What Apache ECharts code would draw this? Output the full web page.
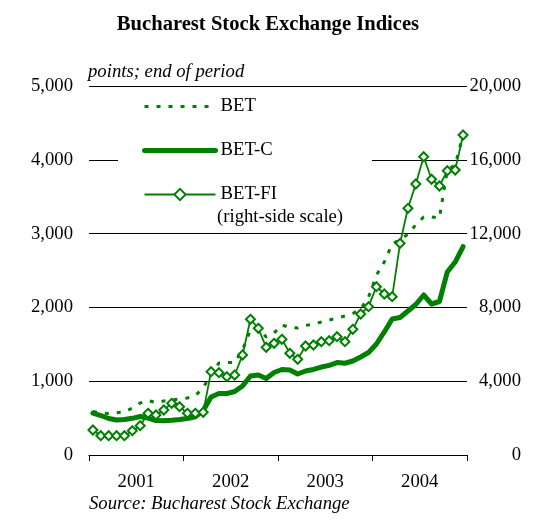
<!DOCTYPE html>
<html>
<head>
<meta charset="utf-8">
<script src="https://cdn.jsdelivr.net/npm/echarts@6/dist/echarts.min.js"></script>
<style>
html,body{margin:0;padding:0;background:#fff;}
#c{width:536px;height:521px;}
</style>
</head>
<body>
<div id="c"></div>
<script>
const years = ['2001', '2002', '2003', '2004'];
const months = [];
years.forEach(y => { for (let m = 1; m <= 12; m++) months.push(y + '-' + (m < 10 ? '0' + m : m)); });

const bet = [589, 569, 562, 573, 583, 637, 705, 738, 711, 732, 745, 759,
  772, 806, 908, 1098, 1247, 1253, 1253, 1423, 1694, 1721, 1599, 1653,
  1762, 1728, 1721, 1755, 1775, 1802, 1829, 1856, 1883, 1917, 1980, 2141,
  2439, 2615, 2860, 2920, 2990, 3120, 3225, 3225, 3211, 3862, 3930, 4336];

const betC = [569, 535, 495, 474, 481, 497, 522, 501, 467, 465, 470, 481,
  495, 519, 603, 786, 833, 833, 860, 935, 1070, 1084, 1037, 1118,
  1159, 1152, 1098, 1138, 1159, 1192, 1215, 1253, 1243, 1274, 1328, 1389,
  1504, 1667, 1843, 1863, 1951, 2039, 2168, 2046, 2080, 2480, 2615, 2825];

const betFI = [1355, 1046, 1046, 1046, 1046, 1317, 1588, 2260, 2168, 2439, 2802, 2618,
  2260, 2260, 2314, 4515, 4461, 4244, 4336, 5420, 7355, 6867, 5837, 6054,
  6271, 5512, 5187, 5908, 5962, 6141, 6195, 6412, 6141, 6813, 7642, 8038,
  9122, 8726, 8580, 11474, 13371, 14688, 16168, 14943, 14580, 15409, 15447, 17344];

const leftAxis = { min: 0, max: 5000, interval: 1000 };
const rightAxis = { min: 0, max: 20000, interval: 4000 };

const GREEN = '#008000';
const FONT = 'Liberation Serif';
const fmt = v => String(v).replace(/\B(?=(\d{3})+(?!\d))/g, ',');

const chart = echarts.init(document.getElementById('c'), null, { renderer: 'canvas' });
chart.setOption({
  animation: false,
  backgroundColor: '#fff',
  title: {
    text: 'Bucharest Stock Exchange Indices',
    left: 'center', top: 9,
    textStyle: { fontFamily: FONT, fontSize: 20.6, fontWeight: 'bold', color: '#000' }
  },
  grid: { left: 89, right: 69, top: 86, bottom: 66 },
  legend: {
    orient: 'vertical',
    left: 118, top: 89,
    padding: [8, 95, 6, 24],
    itemWidth: 71, itemHeight: 14, itemGap: 25,
    backgroundColor: '#fff',
    textStyle: { fontFamily: FONT, fontSize: 18.7, color: '#000' },
    data: [
      { name: 'BET', itemStyle: { opacity: 0 }, lineStyle: { width: 3, type: [4, 8], color: GREEN } },
      { name: 'BET-C', itemStyle: { opacity: 0 }, lineStyle: { width: 5, color: GREEN, cap: 'round' } },
      { name: 'BET-FI', lineStyle: { width: 1.8, color: GREEN } }
    ]
  },
  graphic: [
    { type: 'text', left: 217, top: 208, z: 100,
      style: { text: '(right-side scale)', font: '18.7px "Liberation Serif"', fill: '#000' } },
    { type: 'text', left: 88, top: 63, z: 100,
      style: { text: 'points; end of period', font: 'italic 18.7px "Liberation Serif"', fill: '#000' } },
    { type: 'text', left: 89, top: 495, z: 100,
      style: { text: 'Source: Bucharest Stock Exchange', font: 'italic 18.7px "Liberation Serif"', fill: '#000' } }
  ],
  xAxis: [
    { type: 'category', data: months, boundaryGap: true, show: false },
    { type: 'category', data: years, boundaryGap: true, position: 'bottom',
      axisLine: { lineStyle: { color: '#000', width: 1 } },
      axisTick: { show: true, length: 6, lineStyle: { color: '#000' } },
      axisLabel: { fontFamily: FONT, fontSize: 18.7, color: '#000', margin: 18 },
      splitLine: { show: false } }
  ],
  yAxis: [
    { type: 'value', min: leftAxis.min, max: leftAxis.max, interval: leftAxis.interval,
      axisLine: { show: false }, axisTick: { show: false },
      axisLabel: { fontFamily: FONT, fontSize: 18.7, color: '#000', margin: 16, formatter: fmt },
      splitLine: { lineStyle: { color: '#000', width: 1 } } },
    { type: 'value', min: rightAxis.min, max: rightAxis.max, interval: rightAxis.interval,
      position: 'right',
      axisLine: { show: false }, axisTick: { show: false },
      axisLabel: { fontFamily: FONT, fontSize: 18.7, color: '#000', margin: 54, align: 'right', formatter: fmt },
      splitLine: { show: false } }
  ],
  series: [
    { name: 'BET', type: 'line', xAxisIndex: 0, yAxisIndex: 0, data: bet,
      symbol: 'none', z: 2,
      lineStyle: { color: GREEN, width: 3, type: [4, 8] },
      itemStyle: { color: GREEN } },
    { name: 'BET-C', type: 'line', xAxisIndex: 0, yAxisIndex: 0, data: betC,
      symbol: 'none', z: 3,
      lineStyle: { color: GREEN, width: 5, cap: 'round', join: 'round' },
      itemStyle: { color: GREEN } },
    { name: 'BET-FI', type: 'line', xAxisIndex: 0, yAxisIndex: 1, data: betFI,
      symbol: 'diamond', symbolSize: 9, showSymbol: true, showAllSymbol: true, z: 4,
      lineStyle: { color: GREEN, width: 1.8 },
      itemStyle: { color: '#fff', borderColor: GREEN, borderWidth: 2 } }
  ]
});
</script>
</body>
</html>
